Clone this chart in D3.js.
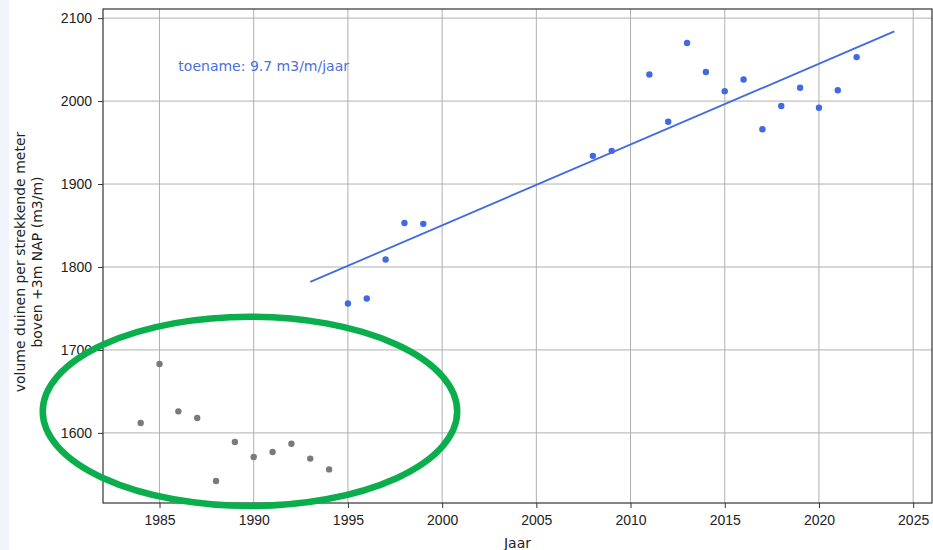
<!DOCTYPE html>
<html>
<head>
<meta charset="utf-8">
<script src="https://cdn.jsdelivr.net/npm/d3@7"></script>
<style>
  body { margin: 0; background: #fff; }
  svg { display: block; font-family: "DejaVu Sans", sans-serif; }
  .tick text { font-size: 14px; fill: #222; }
</style>
</head>
<body>
<svg id="chart" width="933" height="550"></svg>
<script>
// oude metingen (grijs) en recente metingen (blauw)
var oldYears = [1984, 1985, 1986, 1987, 1988, 1989, 1990, 1991, 1992, 1993, 1994];
var oldValues = [1612, 1683, 1626, 1618, 1542, 1589, 1571, 1577, 1587, 1569, 1556];

var newYears = [1995, 1996, 1997, 1998, 1999, 2008, 2009, 2011, 2012, 2013, 2014, 2015, 2016, 2017, 2018, 2019, 2020, 2021, 2022];
var newValues = [1756, 1762, 1809, 1853, 1852, 1934, 1940, 2032, 1975, 2070, 2035, 2012, 2026, 1966, 1994, 2016, 1992, 2013, 2053];

// trendlijn
var fitYears = [1993, 2024];
var fitValues = [1782, 2084];

var xTicks = [1985, 1990, 1995, 2000, 2005, 2010, 2015, 2020, 2025];
var yTicks = [1600, 1700, 1800, 1900, 2000, 2100];

var trendLabel = "toename: 9.7 m3/m/jaar";
var yLabelLines = ["volume duinen per strekkende meter", "boven +3m NAP (m3/m)"];
var xLabel = "Jaar";

// omcirkeling in data-eenheden
var ringCenter = [1989.8, 1626];
var ringYearRadius = 11;
var ringValueRadius = 114;

var svg = d3.select("#chart");
var pLeft = 103, pRight = 932, pTop = 9, pBottom = 503;

// lichte rand links
svg.append("rect").attr("x", 0).attr("y", 0).attr("width", 9).attr("height", 550).attr("fill", "#f1f5fb");

var x = d3.scaleLinear().domain([1982, 2026]).range([pLeft, pRight]);
var y = d3.scaleLinear().domain([1515.5, 2111]).range([pBottom, pTop]);

// raster
svg.append("g").selectAll("line").data(xTicks).join("line")
    .attr("x1", function(d) { return x(d); }).attr("x2", function(d) { return x(d); })
    .attr("y1", pTop).attr("y2", pBottom)
    .attr("stroke", "#b0b0b0").attr("stroke-width", 1);
svg.append("g").selectAll("line").data(yTicks).join("line")
    .attr("x1", pLeft).attr("x2", pRight)
    .attr("y1", function(d) { return y(d); }).attr("y2", function(d) { return y(d); })
    .attr("stroke", "#b0b0b0").attr("stroke-width", 1);

// assen
var xAxis = svg.append("g").attr("transform", "translate(0," + pBottom + ")")
    .call(d3.axisBottom(x).tickValues(xTicks).tickFormat(d3.format("d")).tickSize(5).tickPadding(6));
var yAxis = svg.append("g").attr("transform", "translate(" + pLeft + ",0)")
    .call(d3.axisLeft(y).tickValues(yTicks).tickFormat(d3.format("d")).tickSize(5).tickPadding(6));
[xAxis, yAxis].forEach(function(a) {
    a.select(".domain").remove();
    a.selectAll(".tick line").attr("stroke", "#333");
});
xAxis.selectAll(".tick text").attr("dy", "0.75em");

svg.append("rect")
    .attr("x", pLeft).attr("y", pTop)
    .attr("width", pRight - pLeft).attr("height", pBottom - pTop)
    .attr("fill", "none").attr("stroke", "#333").attr("stroke-width", 1.2);

// punten
svg.append("g").selectAll("circle").data(oldYears).join("circle")
    .attr("cx", function(d) { return x(d); })
    .attr("cy", function(d, i) { return y(oldValues[i]); })
    .attr("r", 3.2).attr("fill", "#7a7a7a");

svg.append("g").selectAll("circle").data(newYears).join("circle")
    .attr("cx", function(d) { return x(d); })
    .attr("cy", function(d, i) { return y(newValues[i]); })
    .attr("r", 3.2).attr("fill", "#4169e1");

var line = d3.line()
    .x(function(d) { return x(d[0]); })
    .y(function(d) { return y(d[1]); });
svg.append("path")
    .datum(d3.zip(fitYears, fitValues))
    .attr("d", line)
    .attr("fill", "none").attr("stroke", "#4169e1").attr("stroke-width", 1.8);

svg.append("text")
    .attr("x", x(1986)).attr("y", y(2036))
    .attr("font-size", 14).attr("fill", "#4a6fdc")
    .text(trendLabel);

// aslabels
svg.append("text")
    .attr("x", (pLeft + pRight) / 2).attr("y", 548)
    .attr("text-anchor", "middle").attr("font-size", 14).attr("fill", "#222")
    .text(xLabel);

var yl = svg.append("text")
    .attr("transform", "translate(25," + ((pTop + pBottom) / 2 + 6) + ") rotate(-90)")
    .attr("text-anchor", "middle").attr("font-size", 14).attr("fill", "#222");
yLabelLines.forEach(function(t, i) {
    yl.append("tspan").attr("x", 0).attr("dy", i === 0 ? 0 : 17).text(t);
});

// groene omcirkeling
svg.append("ellipse")
    .attr("cx", x(ringCenter[0])).attr("cy", y(ringCenter[1]))
    .attr("rx", x(ringCenter[0] + ringYearRadius) - x(ringCenter[0]))
    .attr("ry", y(ringCenter[1]) - y(ringCenter[1] + ringValueRadius))
    .attr("fill", "none").attr("stroke", "#0aae4c").attr("stroke-width", 6.5);
</script>
</body>
</html>
